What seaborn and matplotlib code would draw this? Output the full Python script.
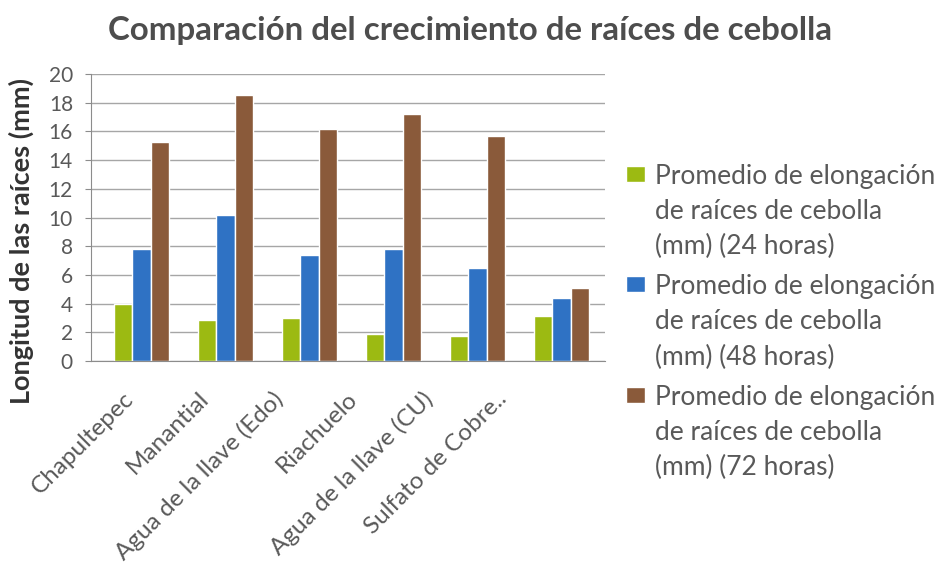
import pandas as pd
import matplotlib.pyplot as plt
import matplotlib.patches as mpatches
import matplotlib.transforms as mtransforms
from matplotlib.legend_handler import HandlerPatch
import seaborn as sns

# values
lugares = ['Chapultepec', 'Manantial', 'Agua de la llave (Edo)', 'Riachuelo',
           'Agua de la llave (CU)', 'Sulfato de Cobre..']
h24 = [4.0, 2.86, 3.02, 1.86, 1.72, 3.14]
h48 = [7.78, 10.2, 7.41, 7.78, 6.51, 4.42]
h72 = [15.26, 18.56, 16.2, 17.24, 15.68, 5.09]
series = ['Promedio de elongación\nde raíces de cebolla\n(mm) (24 horas)',
          'Promedio de elongación\nde raíces de cebolla\n(mm) (48 horas)',
          'Promedio de elongación\nde raíces de cebolla\n(mm) (72 horas)']
colores = ['#9cba12', '#2f72c4', '#8a5a3a']

df = pd.DataFrame({
    'Lugar': lugares * 3,
    'Serie': [series[0]] * 6 + [series[1]] * 6 + [series[2]] * 6,
    'Valor': h24 + h48 + h72,
})

sns.set_style('white')
plt.rcParams['font.family'] = ['Lato', 'DejaVu Sans']
gris = '#595959'
FS_LEG = 19
INTERLINEA = 1.5

fig = plt.figure(figsize=(9.45, 5.75), dpi=100)
ax = fig.add_axes([91 / 945, 1 - 361 / 575, (605 - 91) / 945, (361 - 74) / 575])

sns.barplot(data=df, x='Lugar', y='Valor', hue='Serie', palette=colores,
            width=0.66, gap=0, saturation=1, ax=ax, legend=True)

ax.set_ylim(0, 20)
ax.set_yticks(range(0, 21, 2))
ax.set_xlim(-0.6, 5.52)
ax.grid(axis='y', color='#a6a6a6', linewidth=1)
ax.set_axisbelow(True)
for s in ['top', 'right']:
    ax.spines[s].set_visible(False)
ax.spines['left'].set_color('#8c8c8c')
ax.spines['bottom'].set_color('#8c8c8c')
ax.tick_params(axis='y', left=True, length=4, color='#8c8c8c', labelsize=15, labelcolor=gris, pad=9)
ax.tick_params(axis='x', bottom=False, labelsize=17.5, labelcolor=gris, pad=16)

# etiquetas inclinadas, corridas a la izquierda como en el original
for i, lab in enumerate(ax.get_xticklabels()):
    dx = -18 - 9.5 * i
    lab.set_rotation(45)
    lab.set_ha('right')
    lab.set_rotation_mode('anchor')
    lab.set_transform(lab.get_transform() + mtransforms.ScaledTranslation(dx / 100, 0, fig.dpi_scale_trans))

ax.set_xlabel('')
ax.set_ylabel('Longitud de las raíces (mm)', fontsize=19.5, fontweight='bold', color='#333333')
ax.yaxis.set_label_coords(-0.111, 0.418)

fig.suptitle('Comparación del crecimiento de raíces de cebolla', x=0.497, y=0.973,
             fontsize=23.8, fontweight='bold', color='#4d4d4d')


def parche_arriba(legend, orig_handle, xdescent, ydescent, width, height, fontsize):
    # cuadro alineado con la primera línea del texto
    return mpatches.Rectangle((-xdescent, -ydescent + INTERLINEA * fontsize * 0.97), width, height)


h, l = ax.get_legend_handles_labels()
ax.get_legend().remove()
leg = fig.legend(h, l, loc='center left', bbox_to_anchor=(602 / 945, 1 - 322 / 575),
                 frameon=False, fontsize=FS_LEG, handlelength=0.72, handleheight=0.55,
                 handletextpad=0.38, labelspacing=0.58, labelcolor=gris,
                 handler_map={mpatches.Rectangle: HandlerPatch(patch_func=parche_arriba)})
for t in leg.get_texts():
    t.set_linespacing(INTERLINEA)

fig.savefig('out.png', dpi=100)
